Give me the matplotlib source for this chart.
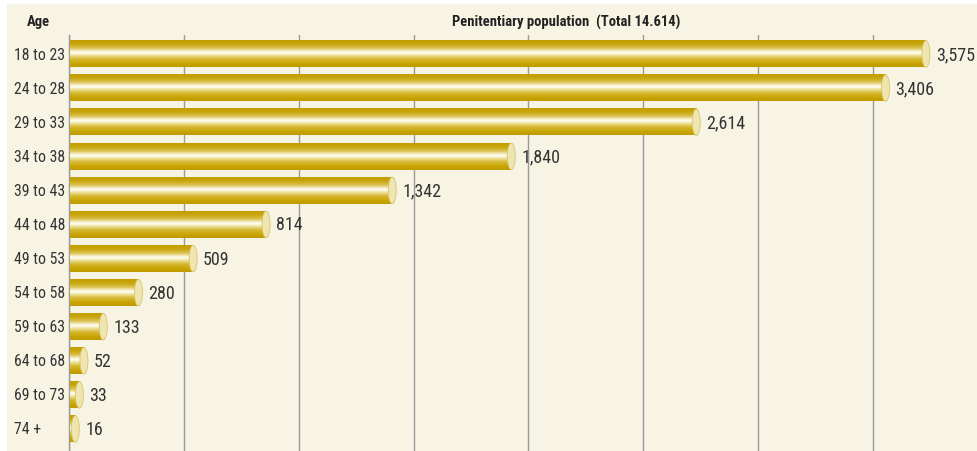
import numpy as np
import matplotlib
matplotlib.use("Agg")
import matplotlib.pyplot as plt
from matplotlib import font_manager
from matplotlib.colors import LinearSegmentedColormap
from matplotlib.patches import Ellipse, Rectangle
from matplotlib.transforms import blended_transform_factory

# Data
age_groups = ["18 to 23", "24 to 28", "29 to 33", "34 to 38", "39 to 43", "44 to 48",
              "49 to 53", "54 to 58", "59 to 63", "64 to 68", "69 to 73", "74 +"]
inmates = [3575, 3406, 2614, 1840, 1342, 814, 509, 280, 133, 52, 33, 16]
title_text = "Penitentiary population  (Total 14.614)"
axis_title = "Age"

# Prefer a condensed face when one is installed
installed = {f.name for f in font_manager.fontManager.ttflist}
preferred = ["Liberation Sans Narrow", "DejaVu Sans Condensed", "Roboto Condensed",
             "Roboto", "Liberation Sans"]
face = next((f for f in preferred if f in installed), "DejaVu Sans")
plt.rcParams["font.family"] = [face, "DejaVu Sans"]

W, H, DPI = 978, 452, 100
fig = plt.figure(figsize=(W / DPI, H / DPI), dpi=DPI)
fig.patch.set_facecolor("white")

cream = "#F8F4E4"
fig.patches.append(Rectangle((7 / W, 0), 1, 1 - 5 / H, transform=fig.transFigure,
                             facecolor=cream, edgecolor="none", zorder=-10))

# Axes geometry in pixels
ax_left, ax_top, ax_bottom = 69, 36, 452
grid_step_px = 114.86
ax_right = ax_left + 8 * grid_step_px
ax = fig.add_axes([ax_left / W, 1 - ax_bottom / H, (ax_right - ax_left) / W,
                   (ax_bottom - ax_top) / H])
ax.set_facecolor("none")

px_per_unit = 0.2390
zero_px = 71.5
x_lo = -(zero_px - ax_left) / px_per_unit
x_hi = x_lo + (ax_right - ax_left) / px_per_unit
bar_start = x_lo + 1.2 / px_per_unit   # bars sit just right of the axis line

n = len(inmates)
row_px = 34.09
y_top = -(55 - ax_top) / row_px
y_bot = (n - 1) + (ax_bottom - 430) / row_px

# Cylinder shading
gold = LinearSegmentedColormap.from_list("gold", [
    (0.00, "#C29E00"), (0.15, "#C9A60C"), (0.30, "#DCC456"), (0.40, "#F4ECC2"),
    (0.47, "#FFFFFA"), (0.55, "#F1E6A8"), (0.70, "#D6B832"), (0.88, "#C8A300"),
    (1.00, "#BE9A00")])
grad = np.linspace(0, 1, 256).reshape(-1, 1)

bar_h = 0.78
cap_w = 8 / px_per_unit
for i, v in enumerate(inmates):
    ax.imshow(grad, cmap=gold, aspect="auto", interpolation="bilinear",
              extent=[bar_start, v, i + bar_h / 2, i - bar_h / 2], zorder=3)
    ax.add_patch(Ellipse((v, i), cap_w, bar_h, facecolor="#EFE5B0",
                         edgecolor="#D8C46A", linewidth=0.6, zorder=4))
    ax.annotate(f"{v:,}", xy=(v, i), xytext=(10, 0), textcoords="offset pixels",
                ha="left", va="center", fontsize=13, color="#333333", zorder=5)

ax.set_xlim(x_lo, x_hi)
ax.set_ylim(y_bot, y_top)

# Vertical grid
ax.set_xticks(np.linspace(x_lo, x_hi, 9))
ax.set_yticks([])
ax.tick_params(axis="x", length=0, labelbottom=False)
ax.grid(axis="x", color="#9A9A9A", linewidth=1.0, zorder=1)
for side in ["top", "right", "bottom"]:
    ax.spines[side].set_visible(False)
ax.spines["left"].set_color("#9A9A9A")
ax.spines["left"].set_linewidth(1.0)

# Category labels
trans = blended_transform_factory(fig.transFigure, ax.transData)
for i, lab in enumerate(age_groups):
    ax.text(14 / W, i, lab, transform=trans, ha="left", va="center",
            fontsize=11.3, color="#333333")

fig.text(27 / W, 1 - 22 / H, axis_title, ha="left", va="center",
         fontsize=10.5, fontweight="bold", color="#222222")
fig.text(566 / W, 1 - 22 / H, title_text, ha="center", va="center",
         fontsize=10.5, fontweight="bold", color="#222222")

fig.savefig("out.png", dpi=DPI, facecolor=fig.get_facecolor())
